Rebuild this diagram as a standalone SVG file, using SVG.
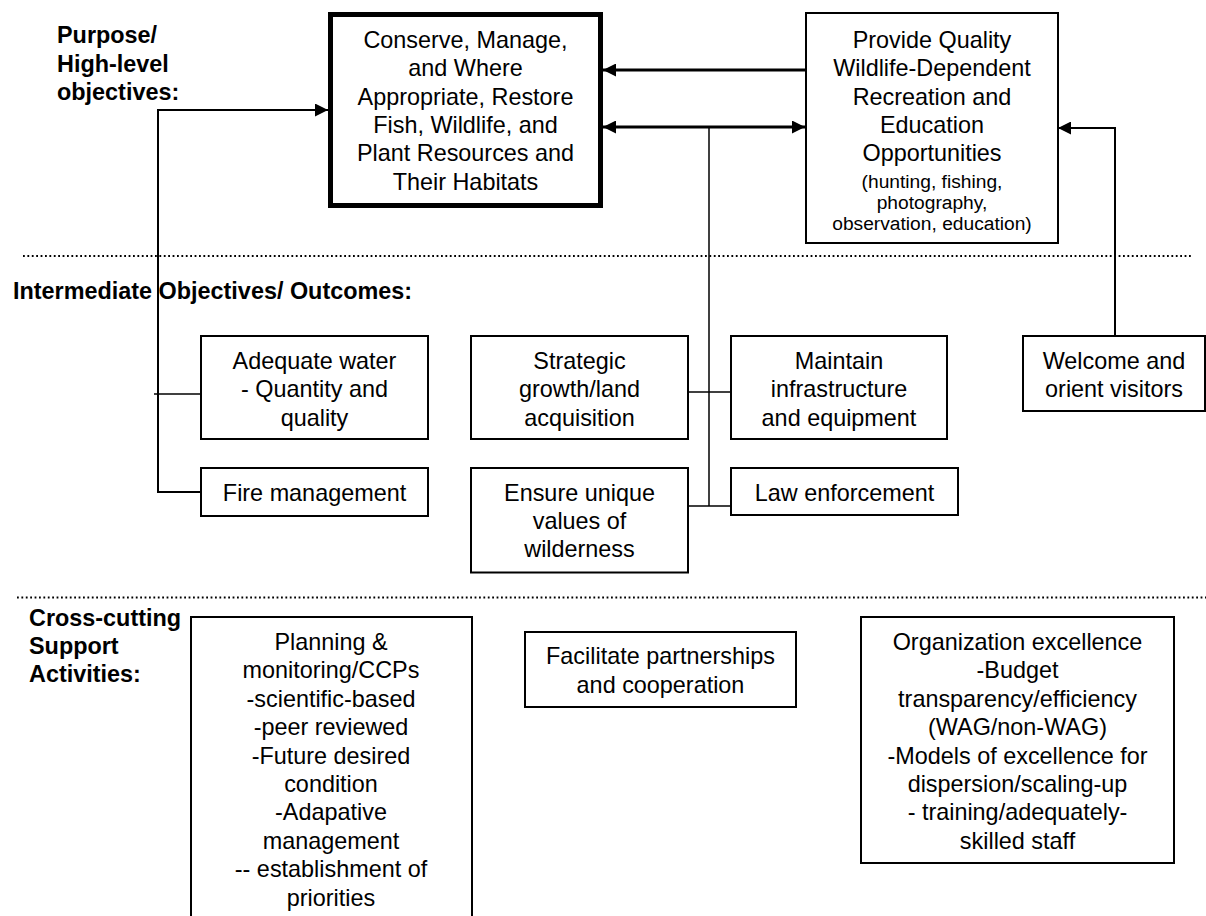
<svg xmlns="http://www.w3.org/2000/svg" width="1206" height="916" viewBox="0 0 1206 916">
<defs>
<style>
.box{fill:#fff;stroke:#000;stroke-width:2}
.thick{fill:#fff;stroke:#000;stroke-width:5}
.t{font-family:"Liberation Sans",Arial,sans-serif;font-size:23.4px;fill:#000;text-anchor:middle}
.s{font-family:"Liberation Sans",Arial,sans-serif;font-size:19.2px;fill:#000;text-anchor:middle}
.lbl{font-family:"Liberation Sans",Arial,sans-serif;font-size:23.4px;font-weight:bold;fill:#000}
.c{fill:none;stroke:#000;stroke-width:2}
.c3{fill:none;stroke:#000;stroke-width:3}
.c1{fill:none;stroke:#000;stroke-width:1.5}
.dot{fill:none;stroke:#000;stroke-width:2;stroke-dasharray:1.8 2.6}
</style>
<marker id="ah" viewBox="0 0 13 13" refX="13" refY="6.5" markerWidth="13" markerHeight="13" markerUnits="userSpaceOnUse" orient="auto-start-reverse">
<path d="M0,0 L13,6.5 L0,13 z" fill="#000"/>
</marker>
</defs>
<rect width="1206" height="916" fill="#fff"/>

<g id="labels">
<text class="lbl" x="57" y="43">Purpose/</text>
<text class="lbl" x="57" y="71.5">High-level</text>
<text class="lbl" x="57" y="100">objectives:</text>
<text class="lbl" x="13" y="299">Intermediate Objectives/ Outcomes:</text>
<text class="lbl" x="29" y="626">Cross-cutting</text>
<text class="lbl" x="29" y="654">Support</text>
<text class="lbl" x="29" y="682">Activities:</text>
</g>

<g id="separators">
<line class="dot" x1="23" y1="256" x2="1193" y2="256"/>
<line class="dot" x1="17" y1="597.5" x2="1206" y2="597.5"/>
</g>

<g id="connectors">
<path class="c" d="M201,492 H158 V110 H328" marker-end="url(#ah)"/>
<line class="c1" x1="154" y1="394" x2="200" y2="394"/>
<line class="c3" x1="806" y1="70" x2="603" y2="70" marker-end="url(#ah)"/>
<line class="c3" x1="603" y1="127" x2="805" y2="127" marker-start="url(#ah)" marker-end="url(#ah)"/>
<line class="c1" x1="709" y1="127" x2="709" y2="506"/>
<line class="c1" x1="688" y1="392" x2="731" y2="392"/>
<line class="c1" x1="688" y1="506" x2="731" y2="506"/>
<path class="c" d="M1115,336 V128 H1058" marker-end="url(#ah)"/>
</g>

<g id="conserve">
<rect class="thick" x="330.5" y="14.5" width="270" height="191"/>
<text class="t" x="465.5" y="48">Conserve, Manage,</text>
<text class="t" x="465.5" y="76.3">and Where</text>
<text class="t" x="465.5" y="104.6">Appropriate, Restore</text>
<text class="t" x="465.5" y="132.9">Fish, Wildlife, and</text>
<text class="t" x="465.5" y="161.2">Plant Resources and</text>
<text class="t" x="465.5" y="189.5">Their Habitats</text>
</g>

<g id="provide">
<rect class="box" x="806" y="13" width="252" height="230"/>
<text class="t" x="932" y="48">Provide Quality</text>
<text class="t" x="932" y="76.3">Wildlife-Dependent</text>
<text class="t" x="932" y="104.6">Recreation and</text>
<text class="t" x="932" y="132.9">Education</text>
<text class="t" x="932" y="161.2">Opportunities</text>
<text class="s" x="932" y="187.5">(hunting, fishing,</text>
<text class="s" x="932" y="208.5">photography,</text>
<text class="s" x="932" y="229.5">observation, education)</text>
</g>

<g id="water">
<rect class="box" x="201" y="336" width="227" height="103"/>
<text class="t" x="314.5" y="369">Adequate water</text>
<text class="t" x="314.5" y="397.3">- Quantity and</text>
<text class="t" x="314.5" y="425.6">quality</text>
</g>

<g id="fire">
<rect class="box" x="201" y="468" width="227" height="48"/>
<text class="t" x="314.5" y="500.7">Fire management</text>
</g>

<g id="strategic">
<rect class="box" x="471" y="336" width="217" height="103"/>
<text class="t" x="579.5" y="369">Strategic</text>
<text class="t" x="579.5" y="397.3">growth/land</text>
<text class="t" x="579.5" y="425.6">acquisition</text>
</g>

<g id="wilderness">
<rect class="box" x="471" y="468" width="217" height="104.5"/>
<text class="t" x="579.5" y="500.7">Ensure unique</text>
<text class="t" x="579.5" y="529">values of</text>
<text class="t" x="579.5" y="557.3">wilderness</text>
</g>

<g id="maintain">
<rect class="box" x="731" y="336" width="216" height="103"/>
<text class="t" x="839" y="369">Maintain</text>
<text class="t" x="839" y="397.3">infrastructure</text>
<text class="t" x="839" y="425.6">and equipment</text>
</g>

<g id="law">
<rect class="box" x="731" y="468" width="227" height="47"/>
<text class="t" x="844.5" y="500.7">Law enforcement</text>
</g>

<g id="welcome">
<rect class="box" x="1023" y="336" width="182" height="75"/>
<text class="t" x="1114" y="369">Welcome and</text>
<text class="t" x="1114" y="397">orient visitors</text>
</g>

<g id="planning">
<rect class="box" x="191" y="617" width="281" height="320"/>
<text class="t" x="331" y="650">Planning &amp;</text>
<text class="t" x="331" y="678.4">monitoring/CCPs</text>
<text class="t" x="331" y="706.8">-scientific-based</text>
<text class="t" x="331" y="735.2">-peer reviewed</text>
<text class="t" x="331" y="763.6">-Future desired</text>
<text class="t" x="331" y="792">condition</text>
<text class="t" x="331" y="820.4">-Adapative</text>
<text class="t" x="331" y="848.8">management</text>
<text class="t" x="331" y="877.2">-- establishment of</text>
<text class="t" x="331" y="905.6">priorities</text>
</g>

<g id="partnerships">
<rect class="box" x="525" y="632" width="271" height="75"/>
<text class="t" x="660.5" y="664">Facilitate partnerships</text>
<text class="t" x="660.5" y="692.5">and cooperation</text>
</g>

<g id="organization">
<rect class="box" x="861" y="617" width="313" height="246"/>
<text class="t" x="1017.5" y="650">Organization excellence</text>
<text class="t" x="1017.5" y="678.4">-Budget</text>
<text class="t" x="1017.5" y="706.8">transparency/efficiency</text>
<text class="t" x="1017.5" y="735.2">(WAG/non-WAG)</text>
<text class="t" x="1017.5" y="763.6">-Models of excellence for</text>
<text class="t" x="1017.5" y="792">dispersion/scaling-up</text>
<text class="t" x="1017.5" y="820.4">- training/adequately-</text>
<text class="t" x="1017.5" y="848.8">skilled staff</text>
</g>
</svg>
